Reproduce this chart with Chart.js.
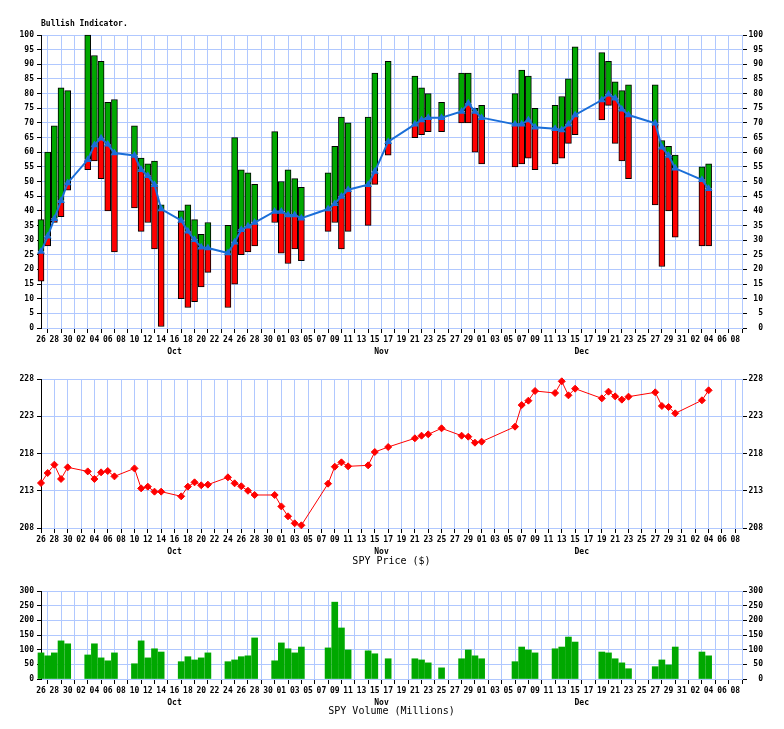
<!DOCTYPE html>
<html>
<head>
<meta charset="utf-8">
<title>Bullish Indicator</title>
<script src="https://cdn.jsdelivr.net/npm/chart.js@4.4.1/dist/chart.umd.min.js"></script>
<style>
  body { margin: 0; background: #fff; }
  canvas { position: absolute; left: 0; }
</style>
</head>
<body>
<canvas id="bullish" width="784" height="365" style="top:0"></canvas>
<canvas id="price" width="784" height="210" style="top:365px"></canvas>
<canvas id="volume" width="784" height="154" style="top:575px"></canvas>
<script>
// trading days shown (some sessions are missing in the source)
const startDate = '2016-09-26';
const tradeDates = [
  '2016-09-26', '2016-09-27', '2016-09-28', '2016-09-29', '2016-09-30',
  '2016-10-03', '2016-10-04', '2016-10-05', '2016-10-06', '2016-10-07',
  '2016-10-10', '2016-10-11', '2016-10-12', '2016-10-13', '2016-10-14',
  '2016-10-17', '2016-10-18', '2016-10-19', '2016-10-20', '2016-10-21',
  '2016-10-24', '2016-10-25', '2016-10-26', '2016-10-27', '2016-10-28',
  '2016-10-31', '2016-11-01', '2016-11-02', '2016-11-03', '2016-11-04',
  '2016-11-08', '2016-11-09', '2016-11-10', '2016-11-11',
  '2016-11-14', '2016-11-15', '2016-11-17',
  '2016-11-21', '2016-11-22', '2016-11-23', '2016-11-25',
  '2016-11-28', '2016-11-29', '2016-11-30', '2016-12-01',
  '2016-12-06', '2016-12-07', '2016-12-08', '2016-12-09',
  '2016-12-12', '2016-12-13', '2016-12-14', '2016-12-15',
  '2016-12-19', '2016-12-20', '2016-12-21', '2016-12-22', '2016-12-23',
  '2016-12-27', '2016-12-28', '2016-12-29', '2016-12-30',
  '2017-01-03', '2017-01-04'
];

const bullHigh = [
  37, 60, 69, 82, 81,
  100, 93, 91, 77, 78,
  69, 58, 56, 57, 42,
  40, 42, 37, 32, 36,
  35, 65, 54, 53, 49,
  67, 50, 54, 51, 48,
  53, 62, 72, 70,
  72, 87, 91,
  86, 82, 80, 77,
  87, 87, 75, 76,
  80, 88, 86, 75,
  76, 79, 85, 96,
  94, 91, 84, 81, 83,
  83, 64, 62, 59,
  55, 56
];
const bullLow = [
  16, 28, 36, 38, 47,
  54, 57, 51, 40, 26,
  41, 33, 36, 27, 0.5,
  10, 7, 9, 14, 19,
  7, 15, 25, 26, 28,
  36, 25.5, 22, 27, 23,
  33, 36, 27, 33,
  35, 49, 59,
  65, 66, 67, 67,
  70, 70, 60, 56,
  55, 56, 58, 54,
  56, 58, 63, 66,
  71, 76, 63, 57, 51,
  42, 21, 40, 31,
  28, 28
];
const bullValue = [
  26.1, 31.3, 37.3, 43.4, 49.5,
  57.4, 62.5, 64.8, 62.7, 59.7,
  58.9, 54, 52, 48.9, 40.6,
  36.7, 33, 30.1, 27.6, 27.3,
  25.6, 29.3, 33.5, 34.7, 36,
  39.8, 39.8, 38.6, 38.6, 37.5,
  40.6, 42.4, 44.9, 47.2,
  48.9, 53.4, 63.6,
  69.5, 71, 71.8, 71.8,
  73.9, 76.7, 73.9, 71.8,
  69.5, 69.5, 71, 68.5,
  68, 67.6, 69.5, 72.7,
  77.8, 79.8, 78.4, 74.7, 72.7,
  69.9, 61.7, 58.9, 54.5,
  50.6, 47.5
];
const spyPrice = [
  214.04, 215.38, 216.5, 214.58, 216.14,
  215.6, 214.58, 215.47, 215.65, 214.93,
  216.0, 213.32, 213.55, 212.88, 212.88,
  212.25, 213.55, 214.13, 213.73, 213.82,
  214.8, 214.0, 213.6, 213.0, 212.43,
  212.43, 210.9, 209.57, 208.63, 208.36,
  213.95, 216.23, 216.81, 216.28,
  216.41, 218.2, 218.87,
  220.04, 220.39, 220.57, 221.38,
  220.39, 220.26, 219.45, 219.59,
  221.6, 224.5, 225.09, 226.39,
  226.12, 227.69, 225.81, 226.7,
  225.4, 226.3, 225.67, 225.23, 225.63,
  226.21, 224.38, 224.24, 223.39,
  225.14, 226.48
];
const spyVolume = [
  89, 79, 89, 130, 120,
  82, 120, 72, 62, 89,
  52, 130, 72, 103, 92,
  59, 76, 65, 72, 89,
  59, 65, 76, 79, 140,
  62, 123, 103, 89, 109,
  106, 262, 174, 99,
  96, 86, 69,
  69, 65, 55, 38,
  69, 99, 79, 69,
  59, 109, 99, 89,
  103, 109, 143, 126,
  92, 89, 69, 55, 35,
  42, 65, 48, 109,
  92, 79
];

// one label every second calendar day from startDate
const tickLabels = [
  '26', '28', '30',
  '02', '04', '06', '08', '10', '12', '14', '16', '18', '20', '22', '24', '26', '28', '30',
  '01', '03', '05', '07', '09', '11', '13', '15', '17', '19', '21', '23', '25', '27', '29',
  '01', '03', '05', '07', '09', '11', '13', '15', '17', '19', '21', '23', '25', '27', '29', '31',
  '02', '04', '06', '08'
];
const monthLabels = ['Oct', 'Nov', 'Dec'];
const monthDates = ['2016-10-16', '2016-11-16', '2016-12-16'];

const GRID = '#b0c8ff';
const GREEN = '#00a800';
const RED = '#ff0000';
const BLUE = '#1a6ed8';
const MONO = 'DejaVu Sans Mono';

const t0 = Date.parse(startDate);
const dayIndex = d => (Date.parse(d) - t0) / 86400000;
const xDays = tradeDates.map(dayIndex);
const tickDays = tickLabels.map((_, i) => i * 2);

Chart.defaults.color = '#000';
Chart.defaults.font = { family: MONO, size: 8, weight: 'bold' };
Chart.defaults.animation = false;
Chart.defaults.plugins.legend.display = false;
Chart.defaults.plugins.tooltip.enabled = false;

// month names under the day ticks + panel titles
const extraText = {
  id: 'extraText',
  afterDraw(chart, args, opts) {
    const { ctx, chartArea, scales } = chart;
    ctx.save();
    ctx.fillStyle = '#000';
    ctx.textBaseline = 'middle';
    ctx.textAlign = 'center';
    ctx.font = 'bold 8px "' + MONO + '"';
    monthLabels.forEach((m, i) => {
      ctx.fillText(m, scales.x.getPixelForValue(dayIndex(monthDates[i])), chartArea.bottom + opts.monthGap);
    });
    if (opts.topTitle) {
      ctx.textAlign = 'left';
      ctx.fillText(opts.topTitle, chartArea.left, opts.topTitleY);
    }
    if (opts.bottomTitle) {
      ctx.font = '10px "' + MONO + '"';
      ctx.fillText(opts.bottomTitle, (chartArea.left + chartArea.right) / 2, chartArea.bottom + opts.titleGap);
    }
    ctx.restore();
  }
};

function scalesFor(min, max, step, xHeight) {
  return {
    x: {
      type: 'linear', min: 0, max: 105, offset: false,
      afterBuildTicks: a => { a.ticks = tickDays.map(v => ({ value: v })); },
      ticks: { autoSkip: false, maxRotation: 0, padding: 2, callback: v => tickLabels[v / 2] },
      grid: { color: GRID, tickColor: '#000', tickLength: 5 },
      border: { color: GRID },
      afterFit: a => { a.height = xHeight; }
    },
    y: {
      min: min, max: max,
      ticks: { stepSize: step, padding: 3 },
      grid: { color: GRID, tickColor: '#000', tickLength: 4 },
      border: { color: '#000' },
      afterFit: a => { a.width = 41; }
    },
    y2: {
      position: 'right', min: min, max: max,
      ticks: { stepSize: step, padding: 2, crossAlign: 'far' },
      grid: { drawOnChartArea: false, tickColor: '#000', tickLength: 5 },
      border: { color: GRID },
      afterFit: a => { a.width = 21; }
    }
  };
}

new Chart(document.getElementById('bullish'), {
  type: 'bar',
  data: {
    datasets: [
      {
        type: 'line',
        data: xDays.map((x, i) => ({ x: x, y: bullValue[i] })),
        borderColor: BLUE, borderWidth: 2,
        pointStyle: 'triangle', pointRadius: 2.5,
        pointBackgroundColor: BLUE, pointBorderColor: BLUE,
        clip: false
      },
      {
        data: xDays.map((x, i) => ({ x: x, y: [bullLow[i], bullValue[i]] })),
        backgroundColor: RED, borderColor: '#000', borderWidth: 1,
        borderSkipped: 'end', barThickness: 6, grouped: false, clip: false
      },
      {
        data: xDays.map((x, i) => ({ x: x, y: [bullValue[i], bullHigh[i]] })),
        backgroundColor: GREEN, borderColor: '#000', borderWidth: 1,
        borderSkipped: 'start', barThickness: 6, grouped: false, clip: false
      }
    ]
  },
  options: {
    responsive: false,
    devicePixelRatio: 1,
    layout: { padding: { top: 35, right: 21 } },
    scales: scalesFor(0, 100, 5, 37),
    plugins: { extraText: { monthGap: 24, topTitle: 'Bullish Indicator.', topTitleY: 24 } }
  },
  plugins: [extraText]
});

new Chart(document.getElementById('price'), {
  type: 'line',
  data: {
    datasets: [{
      data: xDays.map((x, i) => ({ x: x, y: spyPrice[i] })),
      borderColor: RED, borderWidth: 1,
      pointStyle: 'rectRot', pointRadius: 3.5,
      pointBackgroundColor: RED, pointBorderColor: RED,
      clip: false
    }]
  },
  options: {
    responsive: false,
    devicePixelRatio: 1,
    layout: { padding: { top: 14, right: 21 } },
    scales: scalesFor(208, 228, 5, 47),
    plugins: { extraText: { monthGap: 24.4, bottomTitle: 'SPY Price ($)', titleGap: 33 } }
  },
  plugins: [extraText]
});

new Chart(document.getElementById('volume'), {
  type: 'bar',
  data: {
    datasets: [{
      data: xDays.map((x, i) => ({ x: x, y: spyVolume[i] })),
      backgroundColor: GREEN, borderWidth: 0,
      barThickness: 6, clip: false
    }]
  },
  options: {
    responsive: false,
    devicePixelRatio: 1,
    layout: { padding: { top: 16, right: 21 } },
    scales: scalesFor(0, 300, 50, 50),
    plugins: { extraText: { monthGap: 24, bottomTitle: 'SPY Volume (Millions)', titleGap: 32.4 } }
  },
  plugins: [extraText]
});
</script>
</body>
</html>
